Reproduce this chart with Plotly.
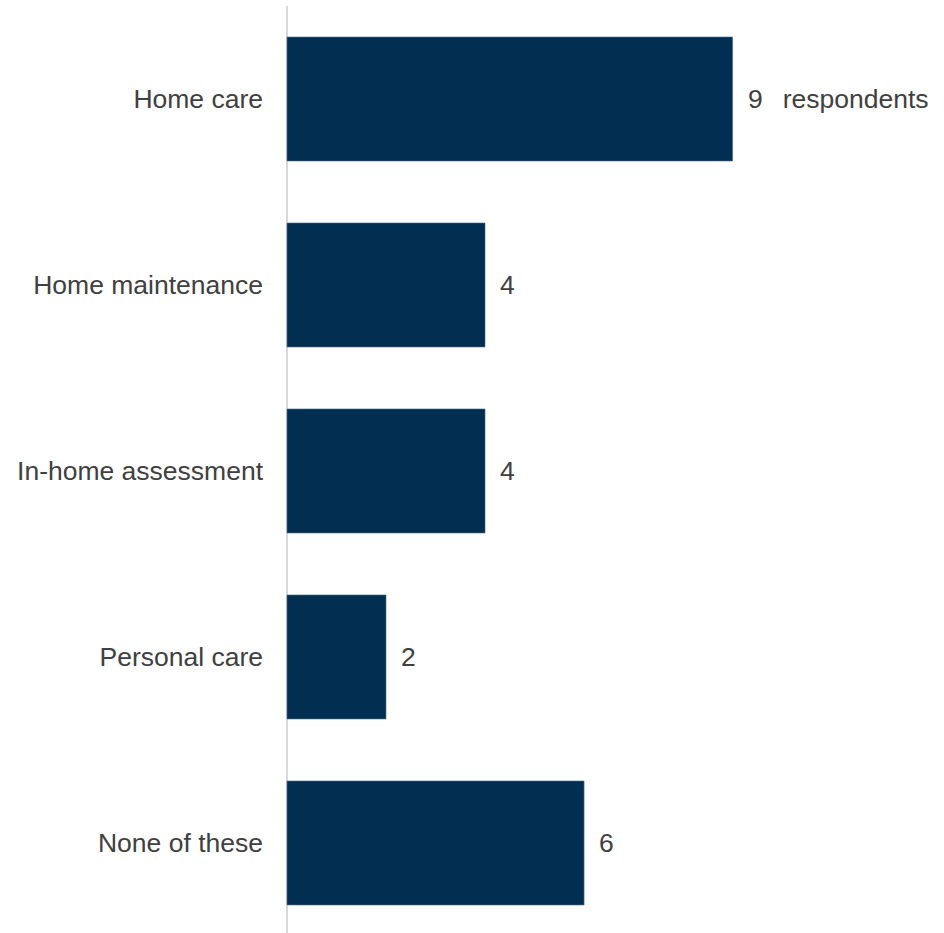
import plotly.graph_objects as go

# Services used, number of respondents per option
categories = ["Home care", "Home maintenance", "In-home assessment", "Personal care", "None of these"]
respondents = [9, 4, 4, 2, 6]
value_labels = ["9\u00a0\u00a0\u2009respondents", "4", "4", "2", "6"]

BAR_COLOR = "#022F51"
TEXT_COLOR = "#404040"
FONT = "Liberation Sans, Arial, sans-serif"
FONT_SIZE = 26.5

fig = go.Figure(
    go.Bar(
        y=categories,
        x=respondents,
        orientation="h",
        width=0.667,
        marker=dict(color=BAR_COLOR, line=dict(color="#4f6f8c", width=0.6)),
        hoverinfo="skip",
    )
)

# Value labels to the right of each bar
for cat, val, lab in zip(categories, respondents, value_labels):
    fig.add_annotation(
        x=val, y=cat, text=lab, showarrow=False,
        xanchor="left", yanchor="middle", xshift=13,
        font=dict(family=FONT, size=FONT_SIZE, color=TEXT_COLOR),
    )

# Thin grey category axis line
fig.add_shape(
    type="line", xref="x", yref="paper", x0=0, x1=0, y0=0, y1=1,
    line=dict(color="#d9d9d9", width=2), layer="below",
)

fig.update_layout(
    width=944, height=933,
    margin=dict(l=286, r=0, t=6, b=0),
    paper_bgcolor="white", plot_bgcolor="white",
    showlegend=False,
    font=dict(family=FONT, size=FONT_SIZE, color=TEXT_COLOR),
    xaxis=dict(range=[-0.02, 13.27], showgrid=False, zeroline=False,
               showticklabels=False, showline=False),
    yaxis=dict(type="category", categoryorder="array", categoryarray=categories,
               range=[4.484, -0.5], showgrid=False, zeroline=False, showline=False,
               ticks="", ticklabelstandoff=22,
               tickfont=dict(family=FONT, size=FONT_SIZE, color=TEXT_COLOR)),
)

fig.write_html("out.html")
